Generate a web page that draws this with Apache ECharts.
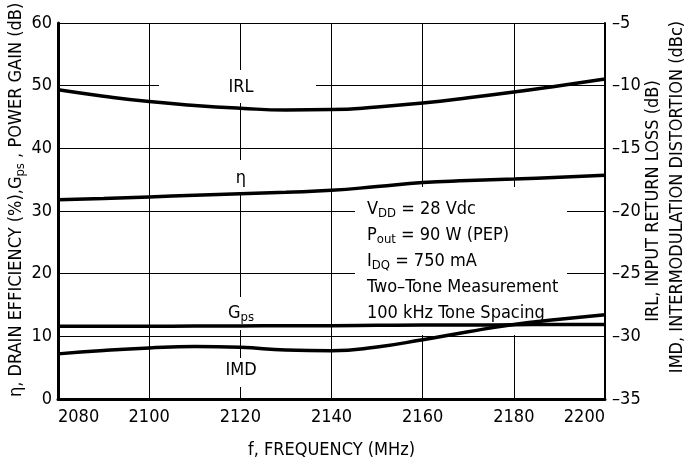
<!DOCTYPE html>
<html>
<head>
<meta charset="utf-8">
<script src="https://cdn.jsdelivr.net/npm/echarts@6/dist/echarts.min.js"></script>
<style>
  html, body { margin: 0; padding: 0; background: #fff; }
  #chart { width: 684px; height: 464px; }
</style>
</head>
<body>
<div id="chart"></div>
<script>
// frequency (MHz)
var freq = [2080, 2090, 2100, 2110, 2120, 2130, 2140, 2150, 2160, 2170, 2180, 2190, 2200];
// left axis: drain efficiency (%) and power gain (dB)
var eta = [31.8, 32.0, 32.25, 32.5, 32.75, 33.0, 33.3, 33.9, 34.55, 34.85, 35.1, 35.4, 35.7];
var gps = [11.6, 11.6, 11.6, 11.65, 11.65, 11.7, 11.7, 11.75, 11.8, 11.8, 11.85, 11.9, 11.9];
// right axis: input return loss (dB) and IMD (dBc)
var irl = [-10.33, -10.84, -11.27, -11.58, -11.8, -11.94, -11.91, -11.7, -11.38, -10.97, -10.51, -10.0, -9.47];
var imd = [-31.4, -31.13, -30.93, -30.82, -30.88, -31.1, -31.16, -30.85, -30.27, -29.63, -29.05, -28.64, -28.27];

var notes = [
  '{n|V}{s|DD}{n| = 28 Vdc}',
  '{n|P}{s|out}{n| = 90 W (PEP)}',
  '{n|I}{s|DQ}{n| = 750 mA}',
  '{n|Two\u2013Tone Measurement}',
  '{n|100 kHz Tone Spacing}'
];

var FONT = "'Liberation Sans Narrow', 'DejaVu Sans Condensed', 'Roboto Condensed', sans-serif";

function pairs(ys) {
  return freq.map(function (f, i) { return [f, ys[i]]; });
}

var richTxt = {
  n: { fontFamily: FONT, fontSize: 18, color: '#000' },
  s: { fontFamily: FONT, fontSize: 13, color: '#000', padding: [9, 0, 0, 0] }
};

var chart = echarts.init(document.getElementById('chart'));

var lineStyle = { color: '#000', width: 3.5 };
function curve(name, ys, axis) {
  return {
    name: name, type: 'line', data: pairs(ys), yAxisIndex: axis,
    smooth: 0.5, symbol: 'none', lineStyle: lineStyle, z: 3,
    animation: false
  };
}

function whiteBox(x, y, w, h) {
  return { type: 'rect', shape: { x: x, y: y, width: w, height: h }, style: { fill: '#fff' }, z: 1, silent: true };
}
function label(x, y, text, align) {
  return {
    type: 'text', x: x, y: y, z: 4,
    style: { text: text, rich: richTxt, align: align || 'center', verticalAlign: 'middle' }
  };
}

chart.setOption({
  animation: false,
  grid: { left: 58, right: 79, top: 23, bottom: 58 },
  xAxis: {
    type: 'value', min: 2080, max: 2200, interval: 20,
    name: 'f, FREQUENCY (MHz)', nameLocation: 'middle', nameGap: 42,
    nameTextStyle: { fontFamily: FONT, fontSize: 18, color: '#000' },
    axisLine: { lineStyle: { color: '#000', width: 3 } },
    axisTick: { show: false },
    axisLabel: { fontFamily: FONT, fontSize: 18, color: '#000', margin: 9,
      alignMinLabel: 'left', alignMaxLabel: 'right',
      formatter: function (v) { return String(v); } },
    splitLine: { lineStyle: { color: '#000', width: 1 } }
  },
  yAxis: [{
    type: 'value', min: 0, max: 60, interval: 10,
    axisLine: { show: true, lineStyle: { color: '#000', width: 3 } },
    axisTick: { show: false },
    axisLabel: { fontFamily: FONT, fontSize: 18, color: '#000', margin: 6 },
    splitLine: { lineStyle: { color: '#000', width: 1 } }
  }, {
    type: 'value', min: -35, max: -5, interval: 5, position: 'right',
    axisLine: { show: true, lineStyle: { color: '#000', width: 2 } },
    axisTick: { show: false },
    axisLabel: { fontFamily: FONT, fontSize: 18, color: '#000', margin: 7,
      formatter: function (v) { return String(v).replace('-', '\u2013'); } },
    splitLine: { show: false }
  }],
  series: [
    curve('IRL', irl, 1),
    curve('\u03b7', eta, 0),
    curve('Gps', gps, 0),
    curve('IMD', imd, 1)
  ],
  graphic: { elements: [
    whiteBox(159, 70, 157, 33),
    whiteBox(228, 160, 26, 34),
    whiteBox(220, 297, 42, 33),
    whiteBox(220, 358, 42, 29),
    whiteBox(355, 187, 212, 148),
    label(241, 87, '{n|IRL}'),
    label(241, 178, '{n|\u03b7}'),
    label(241, 313, '{n|G}{s|ps}'),
    label(241, 370, '{n|IMD}'),
    label(367, 209, notes[0], 'left'),
    label(367, 235, notes[1], 'left'),
    label(367, 261, notes[2], 'left'),
    label(367, 287, notes[3], 'left'),
    label(367, 313, notes[4], 'left'),
    {
      type: 'text', x: 16, y: 397, rotation: Math.PI / 2, z: 4,
      style: { text: '{n|\u03b7, DRAIN EFFICIENCY (%),G}{s|ps}{n| , POWER GAIN (dB)}', rich: richTxt, align: 'left', verticalAlign: 'middle' }
    },
    {
      type: 'text', x: 653, y: 201, rotation: Math.PI / 2, z: 4,
      style: { text: '{n|IRL, INPUT RETURN LOSS (dB)}', rich: richTxt, align: 'center', verticalAlign: 'middle' }
    },
    {
      type: 'text', x: 677, y: 197, rotation: Math.PI / 2, z: 4,
      style: { text: '{n|IMD, INTERMODULATION DISTORTION (dBc)}', rich: richTxt, align: 'center', verticalAlign: 'middle' }
    }
  ] }
});
</script>
</body>
</html>
